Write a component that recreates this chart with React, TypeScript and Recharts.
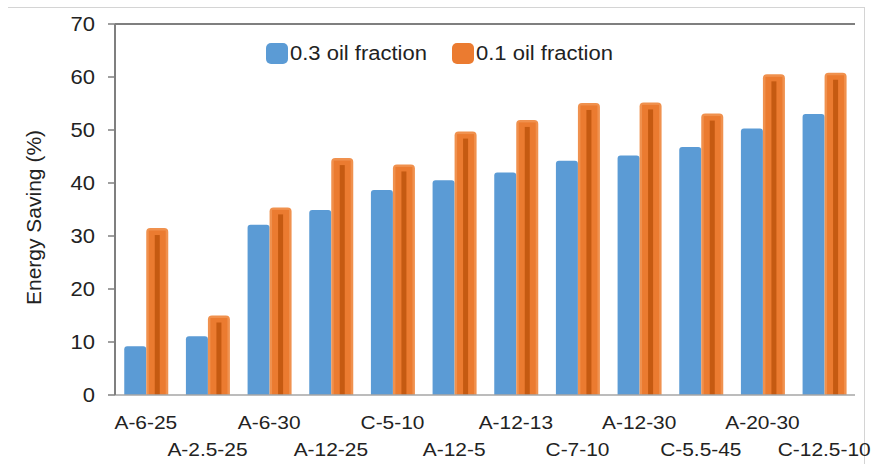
import React from 'react';
import { BarChart, Bar, XAxis, YAxis, ReferenceLine } from 'recharts';

const categories = ['A-6-25', 'A-2.5-25', 'A-6-30', 'A-12-25', 'C-5-10', 'A-12-5', 'A-12-13', 'C-7-10', 'A-12-30', 'C-5.5-45', 'A-20-30', 'C-12.5-10'];
const oil03 = [9.2, 11.1, 32.1, 34.9, 38.7, 40.5, 42.0, 44.2, 45.2, 46.8, 50.3, 53.0];
const oil01 = [31.5, 15.0, 35.4, 44.7, 43.5, 49.7, 51.9, 55.1, 55.2, 53.1, 60.5, 60.8];
const yTicks = [0, 10, 20, 30, 40, 50, 60, 70];

const data = categories.map((c, i) => ({ name: c, a: oil03[i], b: oil01[i] }));

const FONT = 'Liberation Sans, Arial, sans-serif';

const BlueBar = (p: any) => {
  const { x, y, width, height } = p;
  if (!height || height <= 0) return null;
  const r = 3;
  const d = `M${x},${y + height} L${x},${y + r} Q${x},${y} ${x + r},${y} L${x + width - r},${y} Q${x + width},${y} ${x + width},${y + r} L${x + width},${y + height} Z`;
  return <path d={d} fill="#5B9BD5" />;
};

const OrangeBar = (p: any) => {
  const { x, y, width, height } = p;
  if (!height || height <= 0) return null;
  const r = 4;
  const d = `M${x},${y + height} L${x},${y + r} Q${x},${y} ${x + r},${y} L${x + width - r},${y} Q${x + width},${y} ${x + width},${y + r} L${x + width},${y + height} Z`;
  const sw = 5;
  const cx = x + width / 2;
  return (
    <g>
      <path d={d} fill="#F0914E" />
      <rect x={x + 2.5} y={y + 2.5} width={width - 5} height={height - 2.5} fill="#EB7B30" />
      <rect x={cx - sw / 2} y={y + 7} width={sw} height={height - 7} fill="#C55A11" />
    </g>
  );
};

const XTick = (p: any) => {
  const { x, y, payload, index } = p;
  const dy = index % 2 === 0 ? 26 : 53;
  return (
    <text
      transform={`translate(${x},${y - 395 + 395 + dy - 0}) scale(1.1,1)`}
      textAnchor="middle"
      fontFamily={FONT}
      fontSize={19}
      fill="#222"
    >
      {payload.value}
    </text>
  );
};

const YTick = (p: any) => {
  const { x, y, payload } = p;
  return (
    <text
      transform={`translate(${x},${y + 7}) scale(1.1,1)`}
      textAnchor="end"
      fontFamily={FONT}
      fontSize={20}
      fill="#222"
    >
      {payload.value}
    </text>
  );
};

const YLabel = (p: any) => {
  const vb = p.viewBox || { x: 0, y: 24, width: 115, height: 371 };
  const cy = vb.y + vb.height / 2 + 8;
  return (
    <text
      x={0}
      y={0}
      transform={`translate(41,${cy}) rotate(-90)`}
      textAnchor="middle"
      fontFamily={FONT}
      fontSize={21}
      fill="#222"
    >
      Energy Saving (%)
    </text>
  );
};

const legendItems = [
  { label: '0.3 oil fraction', color: '#5B9BD5', left: 266, dot: false },
  { label: '0.1 oil fraction', color: '#EB7B30', left: 452, dot: true },
];

export default function App() {
  return (
    <div style={{ position: 'absolute', left: 0, top: 0, width: 872, height: 464, background: '#fff' }}>
      <div style={{ position: 'absolute', left: 8, top: 7, width: 856, height: 457, borderTop: '1.5px solid #d4d4d4', borderRight: '1.5px solid #d4d4d4' }} />
      <BarChart
        width={872}
        height={464}
        data={data}
        margin={{ top: 24, right: 17, bottom: 0, left: 0 }}
        barCategoryGap="15%"
        barGap={0}
        style={{ position: 'absolute', left: 0, top: 0 }}
      >
        <XAxis
          dataKey="name"
          xAxisId="x"
          height={69}
          interval={0}
          tickLine={false}
          axisLine={{ stroke: '#a6a6a6', strokeWidth: 1.5 }}
          tick={<XTick />}
        />
        <YAxis
          yAxisId="l"
          width={115}
          domain={[0, 70]}
          ticks={yTicks}
          tickSize={7}
          tickMargin={13}
          axisLine={{ stroke: '#7f7f7f', strokeWidth: 2 }}
          tickLine={{ stroke: '#7f7f7f', strokeWidth: 1.5 }}
          tick={<YTick />}
          label={<YLabel />}
        />
        <YAxis
          yAxisId="r"
          orientation="right"
          width={0}
          domain={[0, 70]}
          ticks={yTicks}
          tick={false}
          tickLine={false}
          axisLine={{ stroke: '#7f7f7f', strokeWidth: 2 }}
        />
        <ReferenceLine yAxisId="l" xAxisId="x" y={70} stroke="#7f7f7f" strokeWidth={2} />
        <Bar xAxisId="x" yAxisId="l" dataKey="a" name="0.3 oil fraction" shape={<BlueBar />} isAnimationActive={false} />
        <Bar xAxisId="x" yAxisId="l" dataKey="b" name="0.1 oil fraction" shape={<OrangeBar />} isAnimationActive={false} />
      </BarChart>
      {legendItems.map((it) => (
        <div key={it.label} style={{ position: 'absolute', left: it.left, top: 42, height: 22, display: 'flex', alignItems: 'center' }}>
          <div style={{ width: 22, height: 21, borderRadius: 5, background: it.color, position: 'relative' }} />
          <span
            style={{
              fontFamily: FONT,
              fontSize: 20,
              color: '#222',
              marginLeft: 2,
              display: 'inline-block',
              transform: 'scaleX(1.1)',
              transformOrigin: 'left center',
              whiteSpace: 'nowrap',
            }}
          >
            {it.label}
          </span>
        </div>
      ))}
    </div>
  );
}
